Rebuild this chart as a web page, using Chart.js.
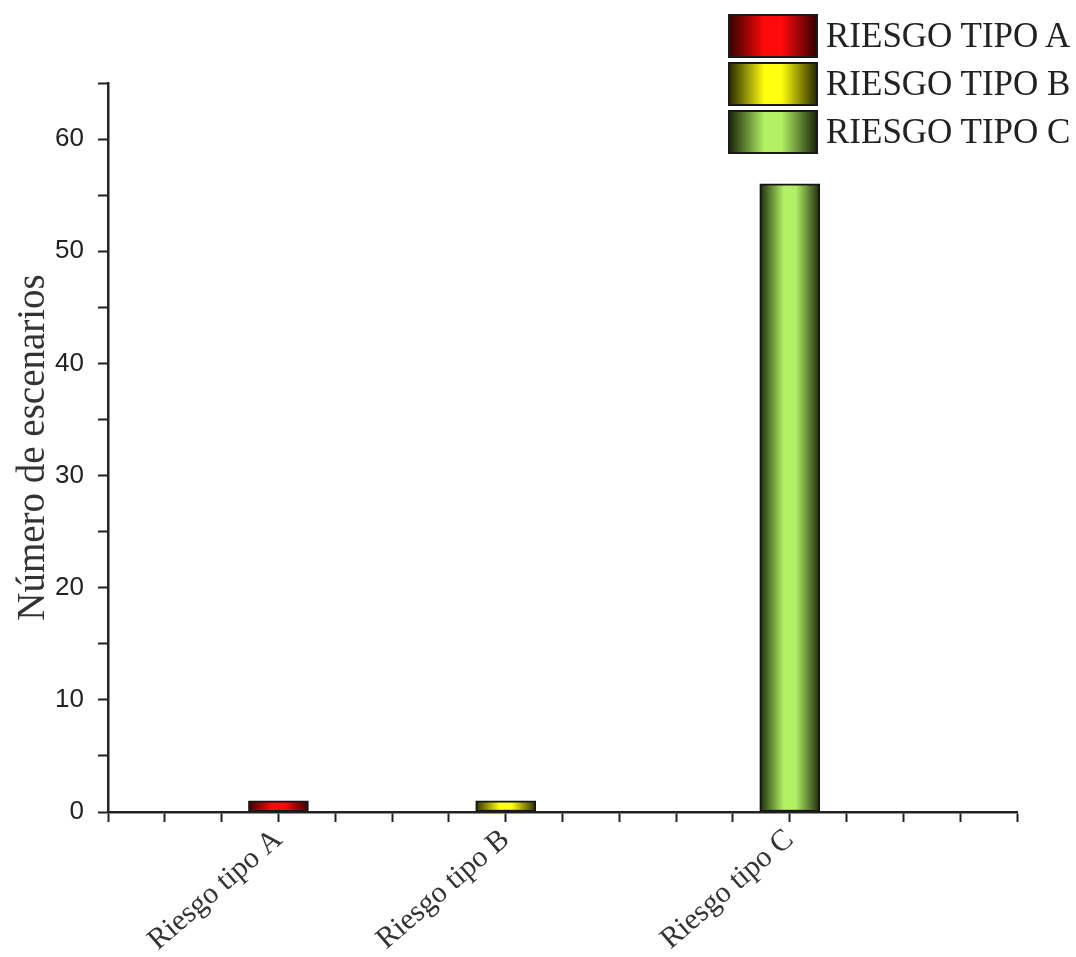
<!DOCTYPE html>
<html>
<head>
<meta charset="utf-8">
<script src="https://cdn.jsdelivr.net/npm/chart.js@4/dist/chart.umd.min.js"></script>
<style>
  body { margin: 0; background: #fff; }
  #wrap { position: relative; width: 1076px; height: 957px; }
  #legend { position: absolute; left: 728px; top: 14px; }
  .item { display: flex; align-items: center; height: 44px; margin-bottom: 4px; }
  .box { width: 86px; height: 40px; border: 2px solid #1a1a1a; }
  .label { margin-left: 8px; font-family: "Liberation Serif", serif; font-size: 35px; color: #222; }
</style>
</head>
<body>
<div id="wrap">
  <canvas id="chart" width="1076" height="957"></canvas>
  <div id="legend"></div>
</div>
<script>
// data
const categories = ["Riesgo tipo A", "Riesgo tipo B", "Riesgo tipo C"];
const legendLabels = ["RIESGO TIPO A", "RIESGO TIPO B", "RIESGO TIPO C"];
const categorySlots = [3, 7, 12];   // position on the 0..16 x scale
const scenarioCounts = [1, 1, 56];
const yTicks = [0, 10, 20, 30, 40, 50, 60];

// [edge, middle] colours for the cylinder look
const barColors = [
    ["#3a0000", "#ff0a0a"],
    ["#2e2e00", "#ffff10"],
    ["#1c2a0a", "#b2f064"]
];

function barGradient(context) {
    const chart = context.chart;
    const i = context.datasetIndex;
    if (!chart.chartArea || !chart.scales.x) return barColors[i][1];
    const cx = chart.scales.x.getPixelForValue(categorySlots[i]);
    const g = chart.ctx.createLinearGradient(cx - 30, 0, cx + 30, 0);
    g.addColorStop(0, barColors[i][0]);
    g.addColorStop(0.4, barColors[i][1]);
    g.addColorStop(0.6, barColors[i][1]);
    g.addColorStop(1, barColors[i][0]);
    return g;
}

const datasets = categories.map((cat, i) => ({
    label: legendLabels[i],
    data: [{ x: categorySlots[i], y: scenarioCounts[i] }],
    backgroundColor: barGradient,
    borderColor: "#151515",
    borderWidth: 2,
    borderSkipped: false,
    barThickness: 60,
    grouped: false
}));

const ctx = document.getElementById("chart").getContext("2d");
const chart = new Chart(ctx, {
    type: "bar",
    data: { datasets: datasets },
    options: {
        responsive: false,
        animation: false,
        layout: { padding: { top: 83, right: 59, left: 0, bottom: 0 } },
        plugins: {
            legend: { display: false },
            tooltip: { enabled: false }
        },
        scales: {
            x: {
                type: "linear",
                min: 0,
                max: 16,
                offset: false,
                afterFit: scale => { scale.height = 145; },
                border: { display: true, color: "#222", width: 2.5 },
                grid: { offset: false, drawOnChartArea: false, tickLength: 10, tickWidth: 2, tickColor: "#222" },
                ticks: {
                    stepSize: 1,
                    autoSkip: false,
                    maxRotation: 41,
                    minRotation: 41,
                    padding: 0,
                    color: "#333",
                    font: { family: "Liberation Serif", size: 30 },
                    callback: v => {
                        const k = categorySlots.indexOf(v);
                        return k >= 0 ? categories[k] : "";
                    }
                }
            },
            y: {
                min: 0,
                max: 65,
                afterFit: scale => { scale.width = 108; },
                border: { display: true, color: "#222", width: 2.5 },
                grid: { drawOnChartArea: false, tickLength: 10, tickWidth: 2, tickColor: "#222" },
                title: {
                    display: true,
                    text: "Número de escenarios",
                    color: "#333",
                    padding: { top: 10 },
                    font: { family: "Liberation Serif", size: 39 }
                },
                ticks: {
                    stepSize: 5,
                    padding: 14,
                    color: "#222",
                    font: { family: "Liberation Sans", size: 26 },
                    callback: v => yTicks.includes(v) ? v : ""
                }
            }
        }
    }
});

// html legend built from the datasets
const legendEl = document.getElementById("legend");
chart.data.datasets.forEach((ds, i) => {
    const row = document.createElement("div");
    row.className = "item";
    const box = document.createElement("div");
    box.className = "box";
    const c = barColors[i];
    box.style.background = "linear-gradient(to right, " + c[0] + ", " + c[1] + " 40%, " + c[1] + " 60%, " + c[0] + ")";
    const txt = document.createElement("span");
    txt.className = "label";
    txt.textContent = ds.label;
    row.appendChild(box);
    row.appendChild(txt);
    legendEl.appendChild(row);
});
</script>
</body>
</html>
